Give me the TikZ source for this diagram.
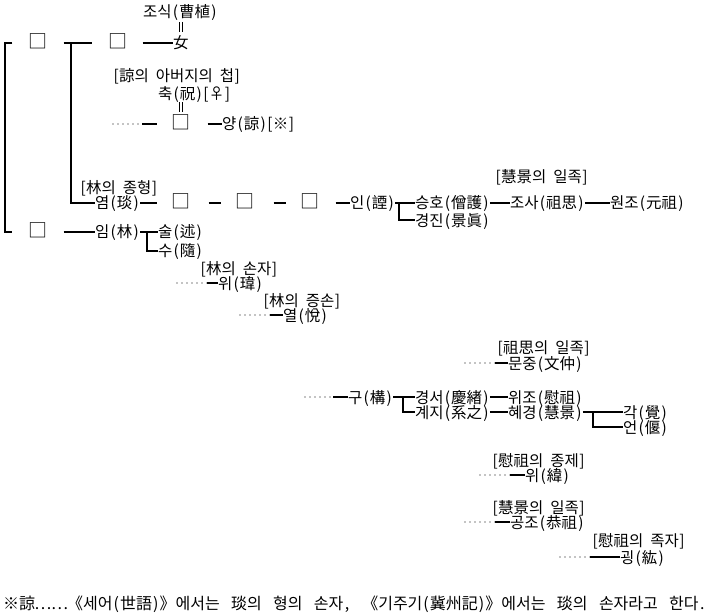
\documentclass[tikz,border=0pt]{standalone}
\usepackage{fontspec}
\setmainfont{Noto Sans CJK KR}
\newcommand\hw[1]{\makebox[7.5pt]{#1}}
\newcommand\kp[1]{\hw{(}#1\hw{)}}
\newcommand\kb[1]{\makebox[6pt]{[}#1\makebox[6pt]{]}}
\newcommand\ks{\hspace*{7pt}}
\newcommand\kss{\hspace*{7pt plus 1fil}}
\begin{document}
\begin{tikzpicture}[x=1pt,y=-1pt,
  t/.style={inner sep=0pt, anchor=west, text height=12pt, text depth=0pt, font=\fontsize{15.5}{18}\selectfont},
  sq/.style={inner sep=0pt, text height=12pt, text depth=0pt, font=\fontsize{19}{20}\selectfont},
  conn/.style={line width=2pt},
  dots/.style={line width=1.2pt, dash pattern=on 0pt off 5pt, line cap=round},
  marry/.style={double, double distance=2pt, line width=0.7pt}]
\useasboundingbox[fill=white] (0,0) rectangle (713,615);

% top branch
\node[t] (josik) at (143,12) {조식\kp{曹植}};
\node[sq] (sq1) at (38,43) {□};
\node[sq] (sq2) at (118,43) {□};
\node[t] (nyeo) at (173,43) {女};
\node[t] (note1) at (113,76) {\kb{諒의\ks 아버지의\ks 첩}};
\node[t] (chuk) at (158,94) {축\kp{祝}\kb{♀}};
\node[sq] (sq3) at (181,124) {□};
\node[t] (yang) at (222,124) {양\kp{諒}\kb{※}};
\coordinate (d1) at (113,124);
\coordinate (m1a) at (181,22);
\coordinate (m1b) at (181,32);

% yeom row
\node[t] (yeomnote) at (80,188) {\kb{林의\ks 종형}};
\node[t] (yeom) at (95,203) {염\kp{琰}};
\node[sq] (sq4) at (181,203) {□};
\node[sq] (sq5) at (245,203) {□};
\node[sq] (sq6) at (310,203) {□};
\node[t] (in) at (350,203) {인\kp{諲}};
\node[t] (seungho) at (415,203) {승호\kp{僧護}};
\node[t] (gyeongjin) at (415,220) {경진\kp{景眞}};
\node[t] (hgnote1) at (495,177) {\kb{慧景의\ks 일족}};
\node[t] (josa) at (510,203) {조사\kp{祖思}};
\node[t] (wonjo) at (610,203) {원조\kp{元祖}};

% im row
\node[sq] (sq7) at (38,232) {□};
\node[t] (im) at (95,232) {임\kp{林}};
\node[t] (sul) at (158,232) {술\kp{述}};
\node[t] (su) at (158,251) {수\kp{隨}};
\node[t] (nwi) at (200,268) {\kb{林의\ks 손자}};
\node[t] (wi1) at (218,283) {위\kp{瑋}};
\coordinate (d2) at (177,283);
\node[t] (nyeol) at (263,300) {\kb{林의\ks 증손}};
\node[t] (yeol) at (283,315) {열\kp{悅}};
\coordinate (d3) at (240,315);

% lower right
\node[t] (nmun) at (497,347) {\kb{祖思의\ks 일족}};
\node[t] (mun) at (508,363) {문중\kp{文仲}};
\coordinate (d4) at (465,363);
\node[t] (gu) at (348,397) {구\kp{構}};
\coordinate (d5) at (305,397);
\node[t] (gyeongseo) at (415,397) {경서\kp{慶緖}};
\node[t] (wijo) at (508,397) {위조\kp{慰祖}};
\node[t] (gyeji) at (415,412) {계지\kp{系之}};
\node[t] (hyegyeong) at (508,412) {혜경\kp{慧景}};
\node[t] (gak) at (623,412) {각\kp{覺}};
\node[t] (eon) at (623,427) {언\kp{偃}};
\node[t] (nwi2) at (492,460) {\kb{慰祖의\ks 종제}};
\node[t] (wi2) at (525,475) {위\kp{緯}};
\coordinate (d6) at (480,475);
\node[t] (ngong) at (492,507) {\kb{慧景의\ks 일족}};
\node[t] (gongjo) at (510,522) {공조\kp{恭祖}};
\coordinate (d7) at (465,522);
\node[t] (ngoeng) at (592,540) {\kb{慰祖의\ks 족자}};
\node[t] (goeng) at (620,557) {굉\kp{紘}};
\coordinate (d8) at (560,557);

% footnote
\node[t, font=\fontsize{16}{18}\selectfont] (foot) at (3,603) {\makebox[703pt][s]{※諒\makebox[2em]{……}《세어\kp{世語}》에서는\kss 琰의\kss 형의\kss 손자\hw{,}\kss《기주기\kp{冀州記}》에서는\kss 琰의\kss 손자라고\kss 한다\hw{.}}};

% connectors
\draw[conn] ([xshift=-16pt]sq1.west) -| ([xshift=-23pt]sq7.west) -- ([xshift=-16pt]sq7.west);
\draw[conn] ([xshift=16pt]sq1.east) -- ([xshift=-16pt]sq2.west);
\draw[conn] ([xshift=23pt]sq1.east) |- (yeom.west);
\draw[conn] ([xshift=15pt]sq2.east) -- (nyeo.west);
\draw[marry] (m1a) -- (m1b);
\draw[marry] (sq3.north |- chuk.south) ++(0,2) -- ([yshift=6pt]sq3.north);
\draw[dots] (d1) -- ++(29,0);
\draw[conn] ([xshift=29pt]d1) -- ([xshift=-14pt]sq3.west);
\draw[conn] ([xshift=17pt]sq3.east) -- (yang.west);

\draw[conn] (yeom.east) -- ([xshift=-14pt]sq4.west);
\draw[conn] ([xshift=18pt]sq4.east) -- ([xshift=-14pt]sq5.west);
\draw[conn] ([xshift=19pt]sq5.east) -- ([xshift=-14pt]sq6.west);
\draw[conn] ([xshift=16pt]sq6.east) -- (in.west);
\draw[conn] (in.east) -- (seungho.west);
\draw[conn] ([xshift=4pt]in.east) |- (gyeongjin.west);
\draw[conn] (seungho.east) -- (josa.west);
\draw[conn] (josa.east) -- (wonjo.west);

\draw[conn] ([xshift=16pt]sq7.east) -- (im.west);
\draw[conn] (im.east) -- (sul.west);
\draw[conn] ([xshift=7pt]im.east) |- (su.west);
\draw[dots] (d2) -- ++(30,0);
\draw[conn] ([xshift=30pt]d2) -- (wi1.west);
\draw[dots] (d3) -- ++(30,0);
\draw[conn] ([xshift=30pt]d3) -- (yeol.west);

\draw[dots] (d4) -- ++(30,0);
\draw[conn] ([xshift=30pt]d4) -- (mun.west);
\draw[dots] (d5) -- ++(28,0);
\draw[conn] ([xshift=28pt]d5) -- (gu.west);
\draw[conn] (gu.east) -- (gyeongseo.west);
\draw[conn] ([xshift=10pt]gu.east) |- (gyeji.west);
\draw[conn] (gyeongseo.east) -- (wijo.west);
\draw[conn] (gyeji.east) -- (hyegyeong.west);
\draw[conn] (hyegyeong.east) -- (gak.west);
\draw[conn] ([xshift=10pt]hyegyeong.east) |- (eon.west);
\draw[dots] (d6) -- ++(30,0);
\draw[conn] ([xshift=30pt]d6) -- (wi2.west);
\draw[dots] (d7) -- ++(30,0);
\draw[conn] ([xshift=30pt]d7) -- (gongjo.west);
\draw[dots] (d8) -- ++(30,0);
\draw[conn] ([xshift=30pt]d8) -- (goeng.west);
\end{tikzpicture}
\end{document}
